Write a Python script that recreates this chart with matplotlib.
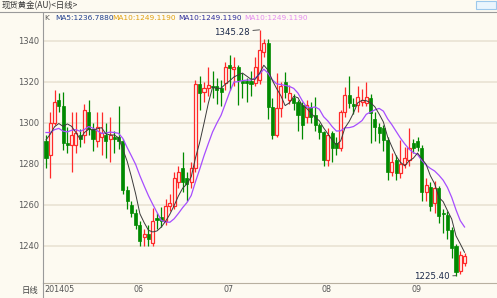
import numpy as np
import matplotlib
matplotlib.use("Agg")
import matplotlib.pyplot as plt
from matplotlib.patches import Rectangle
from matplotlib.lines import Line2D

plt.rcParams["font.family"] = ["DejaVu Sans", "Noto Sans CJK SC"]

# daily OHLC, spot gold, May - mid Sept 2014
open_ = [1291, 1284, 1300, 1311, 1308, 1290, 1289, 1289, 1294, 1294, 1305, 1297, 1291, 1293, 1294, 1292, 1293, 1293, 1291, 1267, 1260,
         1256, 1250, 1244, 1245.5, 1241.5, 1253.5, 1254, 1252, 1259.6, 1259.6, 1271, 1278, 1273, 1271, 1278, 1319, 1315, 1317, 1318, 1318, 1317,
         1319.4, 1328, 1326, 1327, 1320.5, 1320.5, 1320.5, 1319.4, 1321, 1334.6, 1339, 1307.6, 1294, 1307, 1320, 1311, 1312, 1310, 1308.6, 1302.7, 1307.6, 1303.7, 1299,
         1295.4, 1281.7, 1295, 1290, 1287.5, 1305, 1313.5, 1309, 1308.6, 1310, 1309.6, 1312, 1302, 1298, 1297.4, 1291.5, 1275.8, 1281.7, 1275.3, 1280, 1281.7,
         1290, 1291, 1287.5, 1266, 1268.4, 1260.6, 1268, 1256, 1255, 1247.6, 1240, 1227.7, 1231.7]
high = [1294, 1305, 1316, 1314.5, 1315, 1298, 1305, 1305, 1297, 1309, 1311, 1300, 1305, 1305, 1300, 1303, 1296, 1308, 1292, 1269, 1262,
        1258, 1252, 1248, 1250, 1258.6, 1256, 1259, 1263, 1265, 1276, 1279, 1285.6, 1276, 1281, 1321, 1323, 1320, 1327, 1325, 1322, 1321,
        1329.7, 1333, 1332, 1328, 1324, 1322, 1325, 1332, 1345.28, 1341, 1341, 1312, 1324, 1320, 1324.5, 1318.6, 1314, 1311, 1310, 1311, 1310, 1312.5, 1300,
        1296, 1297.5, 1296, 1293, 1306, 1317.5, 1323, 1312, 1318, 1316.5, 1320, 1314, 1305, 1300, 1299, 1293, 1285, 1284, 1291.5, 1288, 1297.4,
        1292, 1293, 1289, 1273, 1271, 1271.5, 1269, 1258, 1257, 1249, 1241, 1237.5, 1236.5]
low = [1278, 1273, 1299, 1305, 1286.5, 1285, 1276, 1285, 1288, 1290, 1294, 1286, 1288, 1284, 1283, 1281, 1285, 1287, 1265, 1258, 1254,
       1248, 1240, 1240, 1240, 1240, 1248, 1249, 1250, 1257, 1258, 1268, 1266, 1262, 1268, 1276, 1306, 1310, 1313, 1312, 1309, 1308,
       1316, 1316, 1318, 1308.6, 1312, 1310, 1313, 1318, 1319, 1332, 1302, 1292, 1293, 1303, 1312, 1309, 1306, 1296, 1292, 1300, 1300, 1296, 1292,
       1279, 1279, 1281, 1284, 1286, 1303, 1307, 1304, 1305, 1308, 1308, 1290, 1291, 1290, 1286, 1272, 1274, 1272, 1273, 1278, 1279,
       1285, 1286, 1262, 1262, 1257, 1256, 1251, 1246, 1243.4, 1234, 1225.4, 1226, 1230]
close = [1283, 1300, 1310, 1308, 1290, 1289, 1294, 1295, 1292, 1306, 1297, 1292, 1298, 1295, 1291, 1294, 1292, 1291, 1267, 1262, 1256,
         1250, 1242.5, 1245.5, 1243.5, 1252, 1252.5, 1252, 1259.6, 1260.6, 1273, 1276, 1271, 1270, 1278, 1319, 1314.5, 1317, 1318.5, 1317.5, 1316, 1315,
         1327, 1326.5, 1327, 1321, 1319.5, 1319.5, 1319, 1327, 1335.6, 1339, 1307.6, 1294, 1307, 1318, 1315, 1314.5, 1309.6, 1303.7, 1299, 1308.6, 1302.7, 1299, 1295.4,
         1281.7, 1294, 1287.5, 1287.5, 1305, 1313.5, 1309.6, 1308, 1312.5, 1311, 1312.5, 1304.7, 1298, 1295, 1291.5, 1275.8, 1280.7, 1275.3, 1280, 1283, 1287.5,
         1287.5, 1288, 1266, 1269.4, 1259.6, 1268, 1254.7, 1255.6, 1247.6, 1239, 1227, 1235.3, 1235]
# late April closes, only used to warm up the moving averages
warmup = [1300, 1296, 1302, 1303, 1293, 1286, 1292, 1300, 1297]

month_start = [0, 21, 42, 65, 86]
month_labels = ["201405", "06", "07", "08", "09"]
yticks = [1240, 1260, 1280, 1300, 1320, 1340]
legend_items = [("K", "#555555"), ("MA5:1236.7880", "#1f3f8f"), ("MA10:1249.1190", "#e0a010"),
                ("MA10:1249.1190", "#2c2c9c"), ("MA10:1249.1190", "#e48cf0")]
legend_px = [44, 55, 112, 178, 244]

open_ = np.array(open_); high = np.array(high); low = np.array(low); close = np.array(close)
x = np.arange(len(close))

W, H = 497, 298
bg = "#fdfaf1"
red = "#ff2a2a"
green = "#008a00"

fig = plt.figure(figsize=(W / 100, H / 100), dpi=100, facecolor=bg)
ax = fig.add_axes([43 / W, 15 / H, 454 / W, 270 / H], facecolor=bg)

for v in yticks:
    ax.axhline(v, color="#ebe4d6", lw=1.3, zorder=0)

rise = close >= open_
lo = np.minimum(open_, close)
hi = np.maximum(open_, close)
w = 0.72

# falling days: solid green
d = ~rise
ax.vlines(x[d], low[d], high[d], color=green, lw=0.9, zorder=2)
ax.bar(x[d], np.maximum(hi - lo, 0.3)[d], bottom=lo[d], width=w, color=green, edgecolor=green, lw=0.5, zorder=3)
# rising days: hollow red
ax.vlines(x[rise], low[rise], lo[rise], color=red, lw=0.9, zorder=2)
ax.vlines(x[rise], hi[rise], high[rise], color=red, lw=0.9, zorder=2)
ax.bar(x[rise], np.maximum(hi - lo, 0.3)[rise], bottom=lo[rise], width=w, facecolor=bg, edgecolor=red, lw=0.9, zorder=3)

full = np.concatenate([warmup, close])
ma5 = np.convolve(full, np.ones(5) / 5, "valid")[-len(close):]
ma10 = np.convolve(full, np.ones(10) / 10, "valid")[-len(close):]
ax.plot(x, ma10, color="#a64dff", lw=0.9, zorder=4)
ax.plot(x, ma5, color="#3a3a3a", lw=0.7, zorder=5)

# max / min labels
pk = int(np.argmax(high))
ax.annotate(f"{high[pk]:.2f}", xy=(pk, high[pk]), xytext=(pk - 2.2, high[pk] - 1.2),
            ha="right", va="center", fontsize=6.2, color="#1c2a4a",
            arrowprops=dict(arrowstyle="-", color="#555555", lw=0.7, shrinkA=0, shrinkB=0))
tr = int(np.argmin(low))
ax.annotate(f"{low[tr]:.2f}", xy=(tr, low[tr]), xytext=(tr - 1.4, low[tr] - 0.6),
            ha="right", va="center", fontsize=6.2, color="#1c2a4a",
            arrowprops=dict(arrowstyle="-", color="#555555", lw=0.7, shrinkA=0, shrinkB=0))

ax.set_xlim(-0.7, 105.6)
ax.set_ylim(1221.8, 1353.5)
ax.set_yticks(yticks)
ax.set_yticklabels([str(v) for v in yticks], fontsize=6, color="#5a5a5a")
ax.set_xticks([])
ax.tick_params(axis="y", length=0, pad=3)
for s in ["top", "right"]:
    ax.spines[s].set_visible(False)
ax.spines["left"].set_color("#9a9a9a")
ax.spines["left"].set_linewidth(0.8)
ax.spines["bottom"].set_color("#b8b0a0")
ax.spines["bottom"].set_linewidth(0.8)

for pos, lab in zip(month_start, month_labels):
    ax.text(pos - 0.4, -7 / 270, lab, transform=ax.get_xaxis_transform(),
            ha="left", va="center", fontsize=5.8, color="#555555")

def fy(py):
    return 1 - py / H

fig.text(2 / W, fy(6), "现货黄金(AU)<日线>", fontsize=6, color="#333333", va="center",
         family=["Noto Sans CJK SC", "DejaVu Sans"])
fig.text(22 / W, fy(290), "日线", fontsize=6, color="#444444", va="center",
         family=["Noto Sans CJK SC", "DejaVu Sans"])
for px, (txt, col) in zip(legend_px, legend_items):
    fig.text(px / W, fy(18), txt, fontsize=5.3, color=col, va="center")

fig.add_artist(Line2D([0, 1], [fy(12), fy(12)], transform=fig.transFigure, color="#9a9a9a", lw=0.8))
fig.add_artist(Line2D([43 / W, 43 / W], [fy(283), 0], transform=fig.transFigure, color="#9a9a9a", lw=0.8))
fig.add_artist(Rectangle((476 / W, fy(9)), 20 / W, 8 / H, transform=fig.transFigure,
                         facecolor="#eaf5fd", edgecolor="#9cc8ec", lw=0.8))

fig.savefig("out.png", dpi=100, facecolor=bg)
